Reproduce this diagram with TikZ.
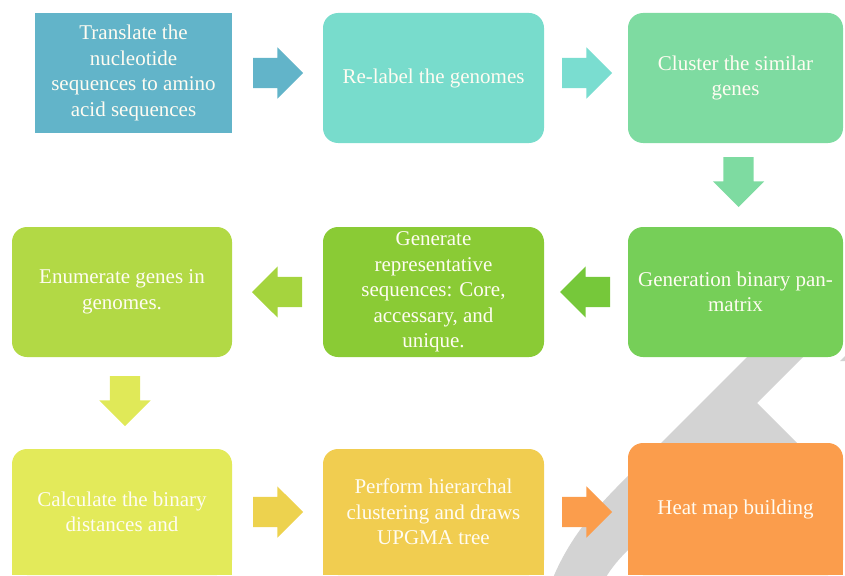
\documentclass[tikz,border=0pt]{standalone}
\usepackage{fontspec}
\setmainfont{Liberation Serif}
\usetikzlibrary{positioning,shapes.arrows,backgrounds}
\definecolor{labeltext}{RGB}{255,252,242}
\definecolor{bandgrey}{RGB}{211,211,211}
\definecolor{translatecolor}{RGB}{98,180,201}
\definecolor{relabelcolor}{RGB}{120,220,204}
\definecolor{relabelarrow}{RGB}{122,221,208}
\definecolor{clustercolor}{RGB}{126,219,161}
\definecolor{pancolor}{RGB}{118,207,88}
\definecolor{panarrow}{RGB}{118,200,58}
\definecolor{reprcolor}{RGB}{138,203,53}
\definecolor{reprarrow}{RGB}{165,212,62}
\definecolor{enumcolor}{RGB}{178,217,69}
\definecolor{enumarrow}{RGB}{224,233,88}
\definecolor{distcolor}{RGB}{227,234,90}
\definecolor{distarrow}{RGB}{237,210,78}
\definecolor{upgmacolor}{RGB}{241,205,80}
\definecolor{heatcolor}{RGB}{251,157,76}

\begin{document}
\begin{tikzpicture}[
    x=1pt,y=-1pt,
    every node/.style={font=\fontsize{21}{25.5}\selectfont,align=center,text=labeltext},
    box/.style={rounded corners=15pt,minimum width=220pt,minimum height=130pt,
                inner sep=0pt,outer sep=0pt},
    blockarrow/.style={single arrow,minimum height=50pt,inner xsep=0pt,inner ysep=15pt,
                single arrow head extend=10.5pt,outer sep=0pt},
    leftarrow/.style={blockarrow,shape border rotate=180},
    downarrow/.style={blockarrow,inner xsep=15pt,inner ysep=0pt,shape border rotate=270}
]
\useasboundingbox (0,0) rectangle (845,575);
\clip (0,0) rectangle (845,575);

% grey loop behind the last two rows
\fill[bandgrey] (545,600) .. controls (565,535) and (605,499) .. (640,464)
    -- (774,330) -- (830,330) -- (757,403) -- (830,476) -- (660,520) -- (628,550)
    .. controls (612,566) and (602,580) .. (596,600) -- cycle;
\fill[bandgrey] (840,361) -- (853,348) -- (853,361) -- cycle;

\node[box,sharp corners,fill=translatecolor,minimum width=197pt,minimum height=120pt] (translate) at (133.5,73) {Translate the\\nucleotide\\sequences to amino\\acid sequences};
\node[box,fill=relabelcolor,minimum width=221pt] (relabel) at (433.5,78) {Re-label the genomes};
\node[box,fill=clustercolor,minimum width=215pt] (cluster) at (735.5,78) {Cluster the similar\\genes};

\node[box,fill=pancolor,minimum width=215pt] (panmatrix) at (735.5,292) {Generation binary pan-\\matrix};
\node[box,fill=reprcolor,minimum width=221pt] (represent) at (433.5,292) {Generate\\representative\\sequences: Core,\\accessary, and\\unique.};
\node[box,fill=enumcolor] (enumerate) at (122,292) {Enumerate genes in\\genomes.};

\node[box,fill=distcolor,minimum height=126pt] (distance) at (122,512) {Calculate the binary\\distances and};
\node[box,fill=upgmacolor,minimum width=221pt,minimum height=126pt] (upgma) at (433.5,512) {Perform hierarchal\\clustering and draws\\UPGMA tree};
\node[box,fill=heatcolor,minimum width=215pt,minimum height=132pt] (heatmap) at (735.5,509) {Heat map building};

\node[blockarrow,fill=translatecolor,right=21pt of translate] (step1) {};
\node[blockarrow,fill=relabelarrow,right=18pt of relabel,yshift=5pt] (step2) {};
\node[downarrow,fill=clustercolor,below=14pt of cluster,xshift=3pt] (step3) {};
\node[leftarrow,fill=panarrow,left=18pt of panmatrix] (step4) {};
\node[leftarrow,fill=reprarrow,left=21pt of represent] (step5) {};
\node[downarrow,fill=enumarrow,below=19pt of enumerate,xshift=3pt] (step6) {};
\node[blockarrow,fill=distarrow,right=21pt of distance] (step7) {};
\node[blockarrow,fill=heatcolor,right=18pt of upgma] (step8) {};

% bottom row runs off the page: square off the lower corners
\begin{scope}[on background layer]
  \foreach \n/\c in {distance/distcolor,upgma/upgmacolor,heatmap/heatcolor}
    \fill[\c] (\n.west) rectangle (\n.south east);
\end{scope}
\end{tikzpicture}
\end{document}
